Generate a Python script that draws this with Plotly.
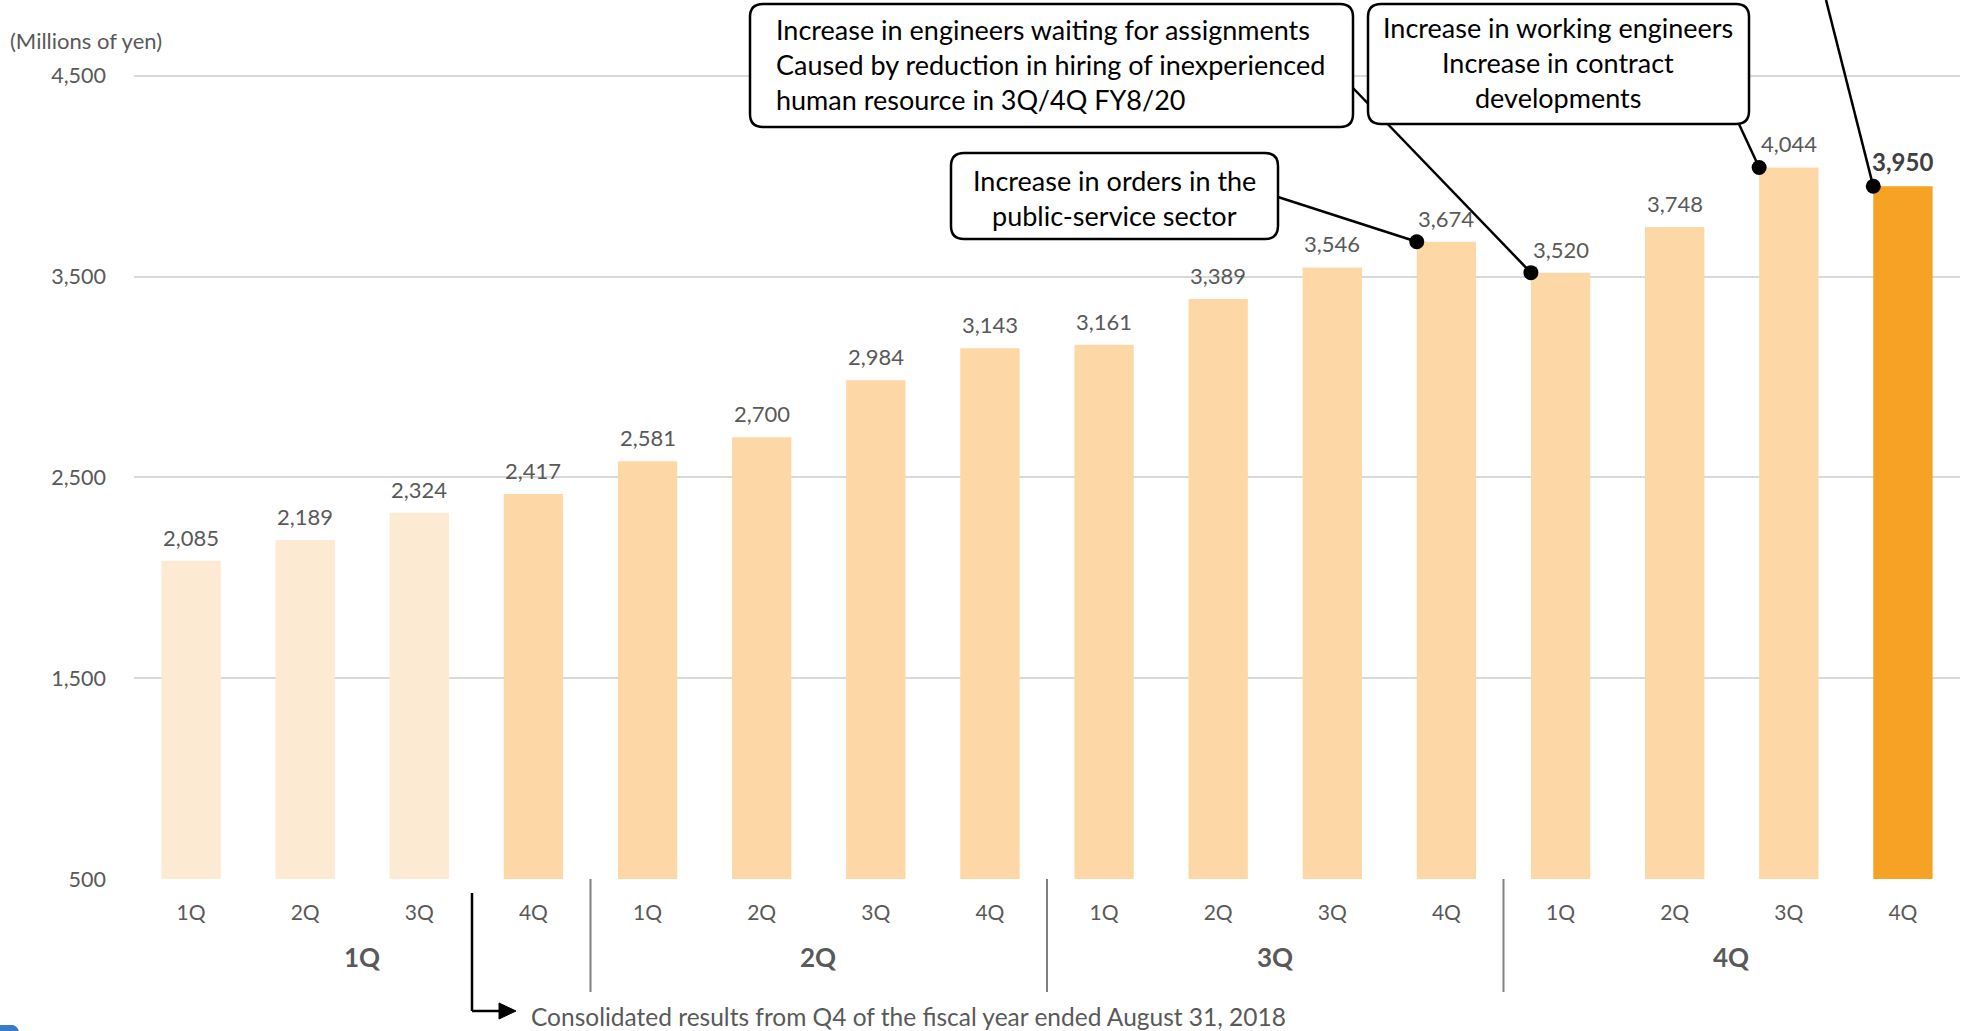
import plotly.graph_objects as go

# ---- data -------------------------------------------------------------
fiscal_years = ["1Q", "2Q", "3Q", "4Q"]
quarters = ["1Q", "2Q", "3Q", "4Q"]
quarter_labels = quarters * 4
sales = [2085, 2189, 2324, 2417, 2581, 2700, 2984, 3143,
         3161, 3389, 3546, 3674, 3520, 3748, 4044, 3950]

# callouts: bar index, text lines
callouts = {
    "orders": (11, ["Increase in orders in the", "public-service sector"]),
    "waiting": (12, ["Increase in engineers waiting for assignments",
                     "Caused by reduction in hiring of inexperienced",
                     "human resource in 3Q/4Q FY8/20"]),
    "working": (14, ["Increase in working engineers",
                     "Increase in contract", "developments"]),
    "latest": (15, []),
}
unit_label = "(Millions of yen)"
footnote = "Consolidated results from Q4 of the fiscal year ended August 31, 2018"

# ---- geometry -----------------------------------------------------------
W, H = 1970, 1031
ML, MR, MT, MB = 134, 10, 0, 152
PW, PH = W - ML - MR, H - MT - MB
N = len(sales)
Y0, Y1 = 500, 4878
BAR_W = 0.52
FONT = "Lato, 'Open Sans', sans-serif"
GRAY = "#595959"


def xd(px):
    return (px - ML) / PW * N - 0.5


def yd(py):
    return Y0 + (PH - py) / PH * (Y1 - Y0)


def xp(px):
    return (px - ML) / PW


def yp(py):
    return (PH - py) / PH


def xcat_paper(x):
    return (x + 0.5) / N


colors = ["#FDEAD2"] * 3 + ["#FDD8A6"] * (N - 4) + ["#F6A224"]

fig = go.Figure()
fig.add_trace(go.Bar(
    x=list(range(N)), y=sales, width=BAR_W,
    marker=dict(color=colors, line=dict(width=0)),
    hoverinfo="skip", showlegend=False,
))

# callout anchor dots at the top-left corner of bars
dot_idx = [v[0] for v in callouts.values()]
fig.add_trace(go.Scatter(
    x=[i - BAR_W / 2 for i in dot_idx], y=[sales[i] for i in dot_idx],
    mode="markers", marker=dict(size=15, color="black"),
    hoverinfo="skip", showlegend=False, cliponaxis=False,
))

annotations = []
shapes = []

# value labels
for i, v in enumerate(sales):
    last = i == N - 1
    annotations.append(dict(
        x=i, y=v, xref="x", yref="y", text=f"{v:,}", showarrow=False,
        yanchor="bottom", yshift=8,
        font=dict(family=FONT, size=24 if last else 22,
                  color="#404040" if last else GRAY,
                  weight="bold" if last else "normal"),
    ))

# fiscal-year group labels and dividers
for g, name in enumerate(fiscal_years):
    annotations.append(dict(
        x=g * 4 + 1.5, xref="x", y=yp(957), yref="paper", text=name,
        showarrow=False, yanchor="middle",
        font=dict(family=FONT, size=26, color=GRAY, weight="bold"),
    ))
    if g > 0:
        xb = xcat_paper(g * 4 - 0.5)
        shapes.append(dict(type="line", xref="paper", yref="paper",
                           x0=xb, x1=xb, y0=0, y1=yp(992),
                           line=dict(color="#808080", width=2)))


def rounded_box(x0, y0, x1, y1, r=13):
    pts = [
        f"M{xp(x0 + r)},{yp(y0)}", f"L{xp(x1 - r)},{yp(y0)}",
        f"Q{xp(x1)},{yp(y0)} {xp(x1)},{yp(y0 + r)}",
        f"L{xp(x1)},{yp(y1 - r)}",
        f"Q{xp(x1)},{yp(y1)} {xp(x1 - r)},{yp(y1)}",
        f"L{xp(x0 + r)},{yp(y1)}",
        f"Q{xp(x0)},{yp(y1)} {xp(x0)},{yp(y1 - r)}",
        f"L{xp(x0)},{yp(y0 + r)}",
        f"Q{xp(x0)},{yp(y0)} {xp(x0 + r)},{yp(y0)} Z",
    ]
    return dict(type="path", xref="paper", yref="paper", path=" ".join(pts),
                fillcolor="white", line=dict(color="black", width=2.5),
                layer="above")


def connector(px, py, idx):
    return dict(type="line", xref="x", yref="y",
                x0=xd(px), y0=yd(py), x1=idx - BAR_W / 2, y1=sales[idx],
                line=dict(color="black", width=2.5), layer="above")


# callout boxes: (box pixels, text anchor, line centres, connector start)
box_specs = {
    "waiting": ((750, 4, 1353, 127), ("left", 774), [30, 65, 100], (1353, 88)),
    "working": ((1368, 4, 1749, 124), ("center", 1558), [28, 63, 98], (1738, 122)),
    "orders": ((951, 153, 1278, 239), ("center", 1114), [180, 215], (1278, 197)),
}
for key, (box, (anchor, tx), ys, start) in box_specs.items():
    idx, lines = callouts[key]
    shapes.append(connector(start[0], start[1], idx))
    shapes.append(rounded_box(*box))
    for line_text, ty in zip(lines, ys):
        annotations.append(dict(
            x=xp(tx), y=yp(ty), xref="paper", yref="paper", text=line_text,
            showarrow=False, xanchor=anchor, yanchor="middle",
            font=dict(family=FONT, size=27, color="black"),
        ))
# leader line of the latest quarter, coming from above the chart
shapes.append(connector(1826, 0, callouts["latest"][0]))

# unit label
annotations.append(dict(
    x=xp(8), y=yp(41), xref="paper", yref="paper", text=unit_label,
    showarrow=False, xanchor="left", yanchor="middle",
    font=dict(family=FONT, size=22, color=GRAY),
))

# footnote with bent arrow
xa = xp(472)
shapes += [
    dict(type="line", xref="paper", yref="paper", x0=xa, x1=xa,
         y0=yp(893), y1=yp(1011), line=dict(color="black", width=2.5)),
    dict(type="line", xref="paper", yref="paper", x0=xa, x1=xp(503),
         y0=yp(1011), y1=yp(1011), line=dict(color="black", width=2.5)),
    dict(type="path", xref="paper", yref="paper",
         path=f"M{xp(499)},{yp(1003)} L{xp(516)},{yp(1011)} L{xp(499)},{yp(1019)} Z",
         fillcolor="black", line=dict(color="black", width=1)),
]
annotations.append(dict(
    x=xp(529), y=yp(1016), xref="paper", yref="paper", text=footnote,
    showarrow=False, xanchor="left", yanchor="middle",
    font=dict(family=FONT, size=24.5, color=GRAY),
))

# slide decoration in the lower-left corner
shapes.append(dict(
    type="path", xref="paper", yref="paper",
    path=f"M{xp(0)},{yp(1031)} L{xp(0)},{yp(1025)} L{xp(13)},{yp(1025)} "
         f"Q{xp(17)},{yp(1026)} {xp(19)},{yp(1031)} Z",
    fillcolor="#3A7CC4", line=dict(width=0),
))

fig.update_layout(
    width=W, height=H,
    margin=dict(l=ML, r=MR, t=MT, b=MB),
    plot_bgcolor="white", paper_bgcolor="white",
    bargap=0.48,
    xaxis=dict(
        range=[-0.5, N - 0.5], tickmode="array",
        tickvals=list(range(N)), ticktext=quarter_labels,
        tickfont=dict(family=FONT, size=21, color=GRAY),
        showgrid=False, zeroline=False, showline=False,
        ticks="", ticklabelstandoff=19,
    ),
    yaxis=dict(
        range=[Y0, Y1], tick0=500, dtick=1000, tickformat=",",
        tickfont=dict(family=FONT, size=21.5, color=GRAY),
        showgrid=True, gridcolor="#D9D9D9", gridwidth=2,
        zeroline=False, showline=False, ticks="", ticklabelstandoff=27,
    ),
    shapes=shapes, annotations=annotations,
    font=dict(family=FONT),
)

fig.write_html("out.html")
